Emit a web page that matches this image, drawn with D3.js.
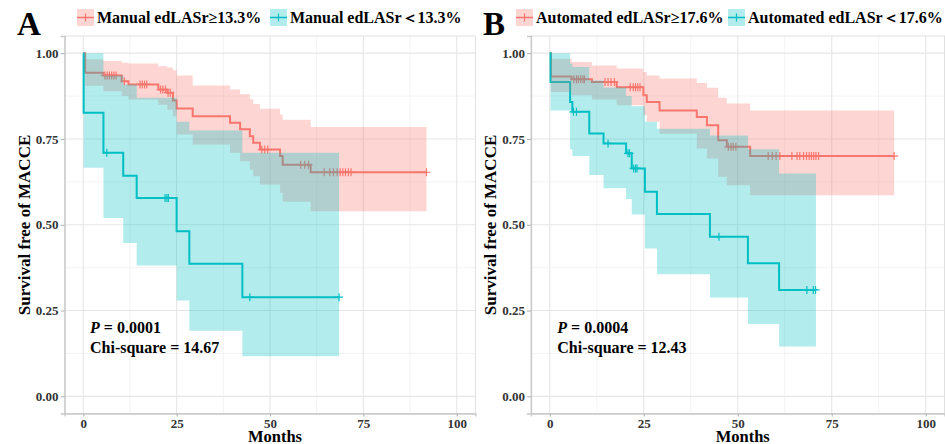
<!DOCTYPE html>
<html>
<head>
<meta charset="utf-8">
<script src="https://cdn.jsdelivr.net/npm/d3@7"></script>
<style>
  body { margin: 0; background: #fff; }
  text { font-family: "Liberation Serif", "Times New Roman", serif; font-weight: bold; }
</style>
</head>
<body>
<svg id="svg1" width="945" height="444"></svg>
<script>
// ---- data ----
const xTicks = [0, 25, 50, 75, 100];
const yTicks = [0, 0.25, 0.5, 0.75, 1];
const yTickLabels = ["0.00", "0.25", "0.50", "0.75", "1.00"];

// panel A, manual edLASr >= 13.3%
const manualHighTime = [0, 0.5, 5.4, 10.3, 12.1, 20.1, 22.5, 24.0, 25.0, 29.3, 39.3, 42.0, 44.6, 45.5, 47.3, 52.7, 53.4, 60.9];
const manualHighSurv = [1, 0.943, 0.935, 0.918, 0.909, 0.894, 0.885, 0.862, 0.839, 0.816, 0.797, 0.778, 0.758, 0.739, 0.719, 0.700, 0.675, 0.653];
const manualHighUpper = [1, 0.982, 0.977, 0.972, 0.970, 0.962, 0.958, 0.950, 0.935, 0.906, 0.894, 0.880, 0.866, 0.852, 0.838, 0.821, 0.806, 0.785];
const manualHighLower = [1, 0.905, 0.889, 0.875, 0.865, 0.850, 0.835, 0.816, 0.763, 0.734, 0.710, 0.685, 0.660, 0.641, 0.617, 0.593, 0.567, 0.539];
const manualHighEnd = 91.9;
const manualHighCensor = [5.8, 6.4, 7.0, 7.6, 8.2, 8.8, 11.0, 15.2, 15.8, 16.4, 17.0, 20.7, 21.3, 22.0, 22.7, 23.3, 47.8, 48.6, 49.4, 58.2, 59.3, 60.3, 64.5, 66.0, 67.0, 68.0, 68.8, 69.5, 70.2, 71.0, 71.7, 91.9];

// panel A, manual edLASr < 13.3%
const manualLowTime = [0, 0.1, 5.4, 10.7, 14.3, 25.0, 28.4, 42.6];
const manualLowSurv = [1, 0.826, 0.710, 0.643, 0.578, 0.481, 0.386, 0.289];
const manualLowUpper = [1, 1.0, 0.935, 0.909, 0.870, 0.800, 0.775, 0.710];
const manualLowLower = [1, 0.666, 0.520, 0.447, 0.381, 0.279, 0.191, 0.117];
const manualLowEnd = 68.5;
const manualLowCensor = [6.3, 21.9, 22.4, 22.8, 44.6, 68.5];

// panel B, automated edLASr >= 17.6%
const autoHighTime = [0, 0.3, 5.8, 11.2, 17.8, 24.9, 25.8, 29.2, 39.1, 41.8, 44.8, 47.1, 53.3];
const autoHighSurv = [1, 0.932, 0.924, 0.916, 0.901, 0.877, 0.858, 0.833, 0.814, 0.790, 0.746, 0.727, 0.700];
const autoHighUpper = [1, 0.984, 0.974, 0.964, 0.955, 0.945, 0.935, 0.926, 0.913, 0.899, 0.870, 0.853, 0.833];
const autoHighLower = [1, 0.887, 0.877, 0.865, 0.848, 0.820, 0.800, 0.765, 0.722, 0.693, 0.640, 0.615, 0.586];
const autoHighEnd = 91.6;
const autoHighCensor = [6.4, 7.1, 7.6, 8.2, 8.8, 9.2, 14.7, 15.5, 16.3, 17.2, 21.4, 22.2, 22.8, 23.4, 24.0, 47.5, 48.2, 48.8, 49.5, 58.1, 59.2, 60.2, 61.2, 64.4, 65.8, 66.5, 67.5, 68.3, 69.0, 69.6, 70.2, 70.8, 71.5, 91.6];

// panel B, automated edLASr < 17.6%
const autoLowTime = [0, 0.2, 5.4, 6.0, 10.5, 14.3, 20.3, 21.8, 25.3, 28.5, 42.6, 52.7, 61.0];
const autoLowSurv = [1, 0.916, 0.858, 0.829, 0.766, 0.737, 0.708, 0.664, 0.596, 0.531, 0.465, 0.388, 0.310];
const autoLowUpper = [1, 1.0, 0.970, 0.960, 0.920, 0.900, 0.875, 0.845, 0.800, 0.780, 0.760, 0.720, 0.649];
const autoLowLower = [1, 0.833, 0.720, 0.700, 0.645, 0.606, 0.575, 0.530, 0.431, 0.356, 0.288, 0.211, 0.145];
const autoLowEnd = 70.8;
const autoLowCensor = [6.3, 7.1, 15.5, 20.8, 21.2, 22.3, 22.8, 23.2, 45.0, 68.4, 70.1, 70.7];

const red = "#F8766D";
const teal = "#00BFC4";

const svg = d3.select("#svg1");
svg.append("rect").attr("width", 945).attr("height", 444).attr("fill", "#fff");

function stepValue(times, vals, t) {
    let v = vals[0];
    for (let i = 0; i < times.length; i++) if (times[i] <= t) v = vals[i];
    return v;
}

function makeSeries(time, surv, upper, lower, end, censor, color) {
    const pts = time.map((t, i) => ({ t: t, s: surv[i], u: upper[i], l: lower[i] }));
    const last = pts[pts.length - 1];
    pts.push({ t: end, s: last.s, u: last.u, l: last.l });
    return { pts: pts, censor: censor.map(t => ({ t: t, s: stepValue(time, surv, t) })), color: color };
}

function drawPanel(cfg) {
    const x = d3.scaleLinear().domain([-5, 105]).range([cfg.left, cfg.right]);
    const y = d3.scaleLinear().domain([-0.05, 1.05]).range([413.5, 36]);
    const g = svg.append("g");

    // grid
    const minorX = [12.5, 37.5, 62.5, 87.5];
    const minorY = [0.125, 0.375, 0.625, 0.875];
    g.selectAll(".mx").data(minorX).enter().append("line")
        .attr("x1", d => x(d)).attr("x2", d => x(d)).attr("y1", 36).attr("y2", 413.5)
        .attr("stroke", "#f0f0f0").attr("stroke-width", 0.8);
    g.selectAll(".my").data(minorY).enter().append("line")
        .attr("x1", cfg.left).attr("x2", cfg.right).attr("y1", d => y(d)).attr("y2", d => y(d))
        .attr("stroke", "#f0f0f0").attr("stroke-width", 0.8);
    g.selectAll(".gx").data(xTicks).enter().append("line")
        .attr("x1", d => x(d)).attr("x2", d => x(d)).attr("y1", 36).attr("y2", 413.5)
        .attr("stroke", "#e6e6e6").attr("stroke-width", 1.1);
    g.selectAll(".gy").data(yTicks).enter().append("line")
        .attr("x1", cfg.left).attr("x2", cfg.right).attr("y1", d => y(d)).attr("y2", d => y(d))
        .attr("stroke", "#e6e6e6").attr("stroke-width", 1.1);

    // curves first, then ribbons (ggplot layer order)
    const line = d3.line().x(d => x(d.t)).y(d => y(d.s)).curve(d3.curveStepAfter);
    const area = d3.area().x(d => x(d.t)).y0(d => y(d.l)).y1(d => y(d.u)).curve(d3.curveStepAfter);

    cfg.series.forEach(s => {
        g.append("path").attr("d", line(s.pts)).attr("fill", "none")
            .attr("stroke", s.color).attr("stroke-width", 2);
        g.selectAll(null).data(s.censor).enter().append("path")
            .attr("d", d => `M${x(d.t) - 4},${y(d.s)}h8M${x(d.t)},${y(d.s) - 4}v8`)
            .attr("stroke", s.color).attr("stroke-width", 1.2);
    });
    cfg.series.forEach(s => {
        g.append("path").attr("d", area(s.pts)).attr("fill", s.color).attr("fill-opacity", 0.3);
    });

    // panel border
    g.append("rect").attr("x", cfg.left).attr("y", 36)
        .attr("width", cfg.right - cfg.left).attr("height", 413.5 - 36)
        .attr("fill", "none").attr("stroke", "#e0e0e0").attr("stroke-width", 1);

    // axes
    const yAxis = g.append("g").attr("transform", `translate(${cfg.left},0)`)
        .call(d3.axisLeft(y).tickValues(yTicks).tickFormat((d, i) => yTickLabels[i]).tickSize(4).tickPadding(2));
    const xAxis = g.append("g").attr("transform", "translate(0,413.5)")
        .call(d3.axisBottom(x).tickValues(xTicks).tickSize(3).tickPadding(2));
    [xAxis, yAxis].forEach(a => {
        a.select(".domain").attr("stroke", "#c8c8c8").attr("stroke-width", 1.3);
        a.selectAll(".tick line").attr("stroke", "#b0b0b0");
        a.selectAll(".tick text").attr("fill", "#333").style("font-size", "13px")
            .style("font-family", "'Liberation Serif', serif").style("font-weight", "bold");
    });

    // axis titles
    g.append("text").attr("x", (cfg.left + cfg.right) / 2 + 5).attr("y", 441.5)
        .attr("text-anchor", "middle").style("font-size", "16.5px").attr("fill", "#000").text("Months");
    g.append("text").attr("transform", `translate(${cfg.left - 35},225) rotate(-90)`)
        .attr("text-anchor", "middle").style("font-size", "17px").attr("fill", "#000").text("Survival free of MACCE");

    // statistics
    const st = g.append("text").attr("x", x(cfg.statX)).attr("y", 333).style("font-size", "16px").attr("fill", "#000");
    st.append("tspan").style("font-style", "italic").text("P");
    st.append("tspan").text(" = " + cfg.pValue);
    g.append("text").attr("x", x(cfg.statX)).attr("y", 353).style("font-size", "16px").attr("fill", "#000")
        .text("Chi-square = " + cfg.chi);

    // panel tag
    g.append("text").attr("x", cfg.tagX).attr("y", 35).style("font-size", "33px").attr("fill", "#000").text(cfg.tag);

    // legend
    cfg.legend.forEach(l => {
        const k = g.append("g").attr("transform", `translate(${l.x},9)`);
        k.append("rect").attr("width", 17).attr("height", 17).attr("fill", l.color).attr("fill-opacity", 0.3);
        k.append("line").attr("x1", 0).attr("x2", 17).attr("y1", 8.5).attr("y2", 8.5).attr("stroke", l.color).attr("stroke-width", 1.5);
        k.append("line").attr("x1", 8.5).attr("x2", 8.5).attr("y1", 4.5).attr("y2", 12.5).attr("stroke", l.color).attr("stroke-width", 1.2);
        g.append("text").attr("x", l.x + 20).attr("y", 22.5).style("font-size", "16px").attr("fill", "#000").text(l.label);
    });
}

drawPanel({
    left: 64.6, right: 475.4, tag: "A", tagX: 17, statX: 1.8,
    pValue: "0.0001", chi: "14.67",
    series: [
        makeSeries(manualHighTime, manualHighSurv, manualHighUpper, manualHighLower, manualHighEnd, manualHighCensor, red),
        makeSeries(manualLowTime, manualLowSurv, manualLowUpper, manualLowLower, manualLowEnd, manualLowCensor, teal)
    ],
    legend: [
        { x: 77, color: red, label: "Manual edLASr\u226513.3%" },
        { x: 270, color: teal, label: "Manual edLASr\uFF1C13.3%" }
    ]
});

drawPanel({
    left: 531, right: 944.5, tag: "B", tagX: 483, statX: 2,
    pValue: "0.0004", chi: "12.43",
    series: [
        makeSeries(autoHighTime, autoHighSurv, autoHighUpper, autoHighLower, autoHighEnd, autoHighCensor, red),
        makeSeries(autoLowTime, autoLowSurv, autoLowUpper, autoLowLower, autoLowEnd, autoLowCensor, teal)
    ],
    legend: [
        { x: 516, color: red, label: "Automated edLASr\u226517.6%" },
        { x: 728, color: teal, label: "Automated edLASr\uFF1C17.6%" }
    ]
});
</script>
</body>
</html>
